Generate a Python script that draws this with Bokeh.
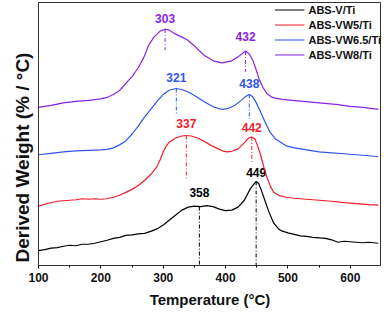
import numpy as np
from bokeh.plotting import figure
from bokeh.models import FixedTicker, Legend, LegendItem, Title
from bokeh.embed import file_html
from bokeh.resources import INLINE

# ---------------- data ----------------
t_v = [100, 110, 120, 130, 140, 150, 160, 170, 180, 190, 200, 210, 220, 230, 240, 250, 260, 270, 280,
       290, 300, 310, 320, 330, 340, 350, 360, 370, 380, 390, 400, 410, 420, 430, 440, 445, 449, 453,
       458, 464, 469, 477, 485, 490, 500, 510, 520, 530, 540, 550, 560, 570, 580, 590, 600, 610, 620,
       630, 645]
d_v = [15, 16, 17.5, 18, 19.5, 20.5, 20, 21.5, 21.5, 22.5, 24, 25.5, 27.5, 28.5, 30.5, 31, 32, 32.5, 34.5,
       37, 41, 46, 51, 56, 59, 60, 59.5, 60.5, 59.5, 57, 55.5, 56, 59, 66, 78, 82, 85, 83,
       75, 64, 55, 43, 37, 35, 33, 31.5, 30, 29.5, 28.5, 28, 27.5, 26, 23.5, 24.5, 24, 23.5, 23,
       23.5, 22.5]

t_vw5 = [100, 110, 120, 130, 140, 150, 160, 170, 180, 190, 200, 210, 220, 230, 240, 250, 260, 270, 280,
         290, 295, 300, 305, 310, 320, 330, 337, 345, 355, 365, 375, 385, 395, 402, 410, 420, 430, 437,
         442, 447, 452, 457, 462, 467, 472, 477, 485, 497, 510, 530, 550, 570, 590, 610, 630, 645]
d_vw5 = [60, 62, 63.5, 65, 65.5, 66, 66.5, 67.5, 67, 67.5, 67, 67.5, 69, 71, 74, 77, 81, 86, 92,
         100, 107, 115, 121, 125, 129, 131, 131.5, 131, 129, 126, 122, 119, 116, 115, 115.5, 118, 124, 129,
         130, 128, 120, 110, 98, 88, 80, 74, 71, 69, 68, 67, 66, 65, 63.5, 62.5, 61.5, 61]

t_vw65 = [100, 120, 140, 160, 180, 200, 210, 220, 230, 240, 250, 260, 270, 280, 290, 300, 310, 321, 330,
          340, 350, 360, 370, 380, 390, 397, 405, 415, 425, 432, 438, 443, 448, 455, 462, 471, 480, 490,
          497, 510, 530, 550, 570, 590, 610, 630, 645]
d_vw65 = [112, 113.5, 115, 116, 116.5, 117, 117.5, 119, 122, 126, 133, 141, 150, 158, 166, 173, 177.5, 179, 178,
          175.5, 172, 168, 164, 160.5, 158.5, 158, 159, 162, 167, 171, 173, 171, 166, 157, 147, 135, 128, 124,
          121, 119, 117, 115, 114, 113, 112, 111, 110]

t_vw8 = [100, 120, 140, 160, 180, 200, 210, 220, 230, 244, 250, 260, 270, 276, 285, 295, 303, 310, 320,
         330, 339, 350, 365, 380, 394, 410, 420, 432, 438, 444, 449, 454, 460, 466, 475, 490, 524, 550,
         577, 600, 620, 645]
d_vw8 = [160, 162, 164.5, 166, 167, 168.5, 170, 173, 177, 187, 191, 200, 212, 222, 231, 237, 239, 238, 234,
         231, 228, 222, 213, 207, 205, 207, 211, 217, 214, 207, 198, 188, 180, 174, 170, 168, 166, 164.5,
         163, 161, 160, 158]

names = ["ABS-V/Ti", "ABS-VW5/Ti", "ABS-VW6.5/Ti", "ABS-VW8/Ti"]
peaks_v = [358, 449]
peaks_vw5 = [337, 442]
peaks_vw65 = [321, 438]
peaks_vw8 = [303, 432]

x_ticks = [100, 200, 300, 400, 500, 600]
x_minor = [150, 250, 350, 450, 550, 650]

# ---------------- style ----------------
colors = ["#000000", "#f01c28", "#2f55f0", "#8a22e6"]
drop_px = [[None, None], [45, 27], [27, 25], [21, 21]]   # None -> drop to axis
label_dy = [[-14, -9], [-12, -9], [-11, -11], [-11, -14]]
FONT = "Liberation Sans"

p = figure(width=381, height=310, x_range=(100, 650), y_range=(0, 266),
           output_backend="svg", toolbar_location=None,
           min_border_left=38, min_border_right=0, min_border_top=2, min_border_bottom=42)
p.grid.visible = False
p.outline_line_color = "#333333"
p.outline_line_width = 1
p.background_fill_color = "white"
p.border_fill_color = "white"

series = [(t_v, d_v, peaks_v), (t_vw5, d_vw5, peaks_vw5),
          (t_vw65, d_vw65, peaks_vw65), (t_vw8, d_vw8, peaks_vw8)]

items = []
for i, (t, d, pk) in enumerate(series):
    r = p.line(t, d, line_color=colors[i], line_width=1.2)
    items.append(LegendItem(label=names[i], renderers=[r]))
    yv = np.interp(pk, t, d)
    y_end = [0 if drop_px[i][k] is None else yv[k] - drop_px[i][k] for k in range(2)]
    p.segment(x0=pk, y0=list(yv), x1=pk, y1=y_end, line_color=colors[i],
              line_width=1, line_dash="4 2 1 2")
    for k in range(2):
        p.text(x=[pk[k]], y=[yv[k]], text=[str(pk[k])], text_color=colors[i],
               text_align="center", text_baseline="middle", y_offset=label_dy[i][k],
               text_font_size="12px", text_font_style="bold", text_font={"value": FONT})

# axes
xa = p.xaxis[0]
xa.ticker = FixedTicker(ticks=x_ticks, minor_ticks=x_minor)
xa.major_tick_out = 3
xa.major_tick_in = 0
xa.minor_tick_out = 2
xa.minor_tick_in = 0
xa.major_label_standoff = 4
xa.major_label_text_font = FONT
xa.major_label_text_font_style = "bold"
xa.major_label_text_font_size = "12px"
xa.major_label_text_color = "#111111"
xa.axis_label = "Temperature (°C)"
xa.axis_label_text_font = FONT
xa.axis_label_text_font_style = "bold"
xa.axis_label_text_font_size = "15px"
xa.axis_label_standoff = 6
xa.axis_label_text_color = "#111111"
xa.axis_line_color = "#333333"

ya = p.yaxis[0]
ya.ticker = FixedTicker(ticks=[])
ya.major_tick_out = 0
ya.minor_tick_out = 0
ya.major_label_text_font_size = "0px"
ya.axis_line_color = "#333333"

ytitle = Title(text="Derived Weight (% / °C)", align="left", offset=3, standoff=11,
               text_font=FONT, text_font_style="bold", text_font_size="19px",
               text_color="#111111")
p.add_layout(ytitle, "left")

legend = Legend(items=items, location="top_right", glyph_width=30, glyph_height=15,
                label_standoff=4, spacing=0, padding=5, margin=0, label_height=15,
                border_line_color=None, background_fill_alpha=0,
                label_text_font=FONT, label_text_font_style="bold",
                label_text_font_size="11px", label_text_color="#111111")
p.add_layout(legend)

open("out.html", "w").write(file_html(p, INLINE))
